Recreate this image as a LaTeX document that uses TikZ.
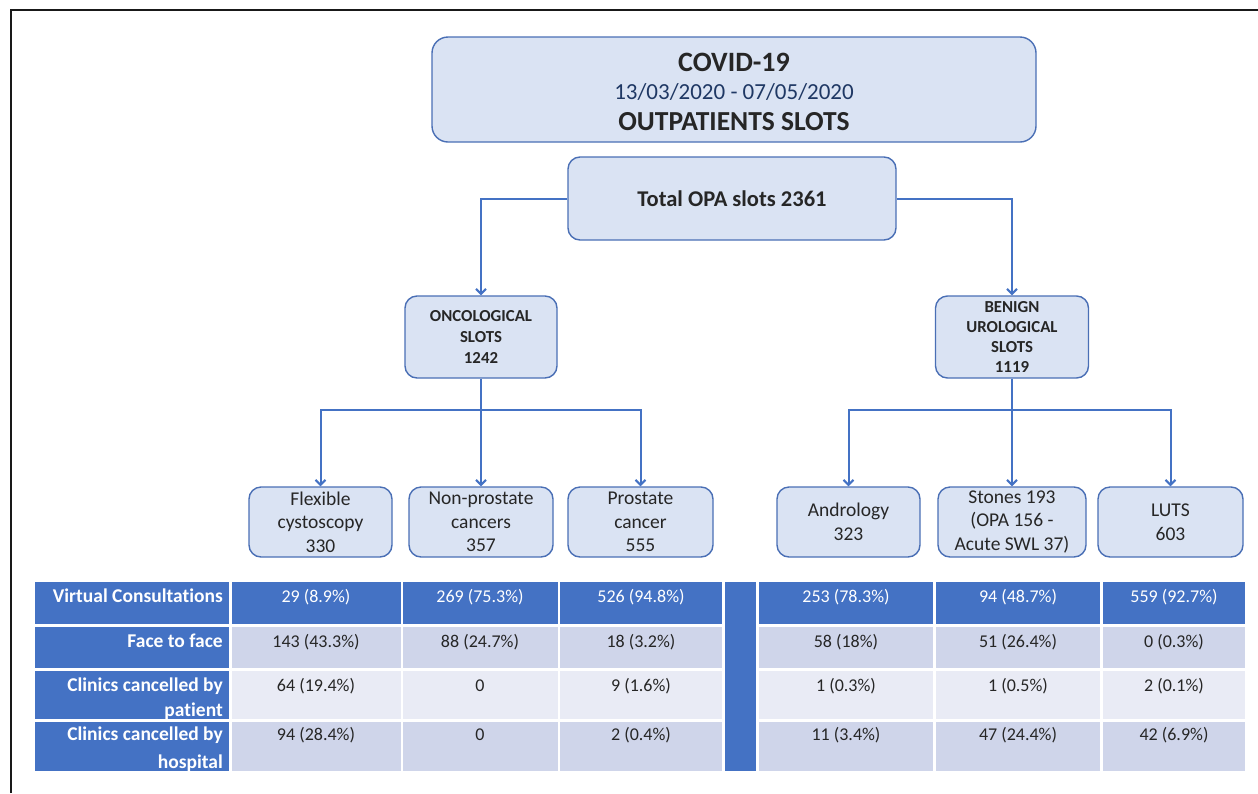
\documentclass[tikz,border=0pt]{standalone}
\usepackage{fontspec}
\setmainfont[Ligatures=NoCommon]{Carlito}
\usetikzlibrary{arrows.meta}
\definecolor{boxfill}{HTML}{DAE3F3}
\definecolor{boxline}{HTML}{4A6FB5}
\definecolor{arrowc}{HTML}{4472C4}
\definecolor{hdr}{HTML}{4472C4}
\definecolor{rowA}{HTML}{CFD5EA}
\definecolor{rowB}{HTML}{E9EBF5}
\definecolor{datec}{HTML}{1F3864}
\definecolor{txt}{HTML}{262626}
\newcommand\fs[2]{\fontsize{#1}{#2}\selectfont}
\begin{document}
\begin{tikzpicture}[x=1pt,y=-1pt,
  box/.style={draw=boxline, line width=1.4pt, fill=boxfill, rounded corners=12pt, align=center, inner sep=0pt, text=txt},
  conn/.style={draw=arrowc, line width=2pt},
  arr/.style={conn, -{Straight Barb[length=5pt,width=10pt,line width=2pt]}},
  lab/.style={anchor=base east, inner sep=0pt, text=white, font=\fs{19.5}{22}\bfseries},
  val/.style={anchor=base, inner sep=0pt, text=txt, font=\fs{18}{20}},
  hval/.style={val, text=white},
  frame/.style={draw=black!90, line width=2.2pt}]
\useasboundingbox (0,0) rectangle (1258,793);
% frame
\coordinate (fbl) at (11,793);
\coordinate (ftl) at (11,10);
\coordinate (ftr) at (1258,10);
\draw[frame] (fbl) -- (ftl) -- (ftr);

% title box
\node[box, rounded corners=16pt, minimum width=604pt, minimum height=105pt] (covid) at (734,89.5) {};
\node[font=\fs{28}{30}\bfseries, text=txt] (covidA) at (734,62) {COVID-19};
\node[font=\fs{23}{26}, text=datec] (covidB) at (734,92) {13/03/2020 - 07/05/2020};
\node[font=\fs{27.5}{30}\bfseries, text=txt] (covidC) at (734,122) {OUTPATIENTS SLOTS};

\node[box, minimum width=328pt, minimum height=83pt, font=\fs{22.5}{26}\bfseries] (total) at (732,198.5) {Total OPA slots 2361};

\node[box, minimum width=152pt, minimum height=82pt, font=\fs{16.8}{21}\bfseries] (onc) at (481,337) {ONCOLOGICAL\\SLOTS\\1242};
\node[box, minimum width=153pt, minimum height=82pt, font=\fs{16.8}{19.7}\bfseries] (ben) at (1012,337) {BENIGN\\UROLOGICAL\\SLOTS\\1119};

\tikzset{child/.style={box, minimum height=70pt, font=\fs{19.5}{23.5}}}
\node[child, minimum width=143pt] (f1) at (320.5,522) {Flexible\\cystoscopy\\330};
\node[child, minimum width=144pt] (f2) at (481,522) {Non-prostate\\cancers\\357};
\node[child, minimum width=145pt] (f3) at (640.5,522) {Prostate\\cancer\\555};
\node[child, minimum width=143pt] (b1) at (848.5,522) {Andrology\\323};
\node[child, minimum width=148pt] (b2) at (1012,522) {Stones 193\\(OPA 156 -\\Acute SWL 37)};
\node[child, minimum width=145pt] (b3) at (1170.5,522) {LUTS\\603};

% connectors
\draw[arr] (total.west) -| (onc.north);
\draw[arr] (total.east) -| (ben.north);
\coordinate (ob) at (481,410);
\coordinate (bb) at (1012,410);
\draw[conn] (onc.south) -- (ob);
\draw[arr] (ob) -- (f2.north);
\draw[arr] (ob) -| (f1.north);
\draw[arr] (ob) -| (f3.north);
\draw[conn] (ben.south) -- (bb);
\draw[arr] (bb) -- (b2.north);
\draw[arr] (bb) -| (b1.north);
\draw[arr] (bb) -| (b3.north);

% table backgrounds
\fill[hdr] (35,582) rectangle (229,624);
\fill[hdr] (231.5,582) rectangle (400.5,624);
\fill[hdr] (403,582) rectangle (557.5,624);
\fill[hdr] (560,582) rectangle (722,624);
\fill[hdr] (759,582) rectangle (933,624);
\fill[hdr] (936,582) rectangle (1100,624);
\fill[hdr] (1103,582) rectangle (1245,624);
\fill[hdr] (725,582) rectangle (756,771);
% row 2
\fill[hdr] (35,627) rectangle (229,668);
\fill[rowA] (231.5,627) rectangle (400.5,668);
\fill[rowA] (403,627) rectangle (557.5,668);
\fill[rowA] (560,627) rectangle (722,668);
\fill[rowA] (759,627) rectangle (933,668);
\fill[rowA] (936,627) rectangle (1100,668);
\fill[rowA] (1103,627) rectangle (1245,668);
% row 3
\fill[hdr] (35,671) rectangle (229,719);
\fill[rowB] (231.5,671) rectangle (400.5,719);
\fill[rowB] (403,671) rectangle (557.5,719);
\fill[rowB] (560,671) rectangle (722,719);
\fill[rowB] (759,671) rectangle (933,719);
\fill[rowB] (936,671) rectangle (1100,719);
\fill[rowB] (1103,671) rectangle (1245,719);
% row 4
\fill[hdr] (35,722) rectangle (229,771);
\fill[rowA] (231.5,722) rectangle (400.5,771);
\fill[rowA] (403,722) rectangle (557.5,771);
\fill[rowA] (560,722) rectangle (722,771);
\fill[rowA] (759,722) rectangle (933,771);
\fill[rowA] (936,722) rectangle (1100,771);
\fill[rowA] (1103,722) rectangle (1245,771);

% labels
\node[lab] (l1) at (223,602) {Virtual Consultations};
\node[lab] (l2) at (223,647) {Face to face};
\node[lab] (l3a) at (223,691) {Clinics cancelled by};
\node[lab] (l3b) at (223,716) {patient};
\node[lab] (l4a) at (223,740) {Clinics cancelled by};
\node[lab] (l4b) at (223,768) {hospital};

% row 1 values
\node[hval] (v11) at (316,602) {29 (8.9\%)};
\node[hval] (v12) at (480,602) {269 (75.3\%)};
\node[hval] (v13) at (641,602) {526 (94.8\%)};
\node[hval] (v14) at (846,602) {253 (78.3\%)};
\node[hval] (v15) at (1018,602) {94 (48.7\%)};
\node[hval] (v16) at (1174,602) {559 (92.7\%)};
% row 2
\node[val] (v21) at (316,647) {143 (43.3\%)};
\node[val] (v22) at (480,647) {88 (24.7\%)};
\node[val] (v23) at (641,647) {18 (3.2\%)};
\node[val] (v24) at (846,647) {58 (18\%)};
\node[val] (v25) at (1018,647) {51 (26.4\%)};
\node[val] (v26) at (1174,647) {0 (0.3\%)};
% row 3
\node[val] (v31) at (316,691) {64 (19.4\%)};
\node[val] (v32) at (480,691) {0};
\node[val] (v33) at (641,691) {9 (1.6\%)};
\node[val] (v34) at (846,691) {1 (0.3\%)};
\node[val] (v35) at (1018,691) {1 (0.5\%)};
\node[val] (v36) at (1174,691) {2 (0.1\%)};
% row 4
\node[val] (v41) at (316,740) {94 (28.4\%)};
\node[val] (v42) at (480,740) {0};
\node[val] (v43) at (641,740) {2 (0.4\%)};
\node[val] (v44) at (846,740) {11 (3.4\%)};
\node[val] (v45) at (1018,740) {47 (24.4\%)};
\node[val] (v46) at (1174,740) {42 (6.9\%)};
\end{tikzpicture}
\end{document}
